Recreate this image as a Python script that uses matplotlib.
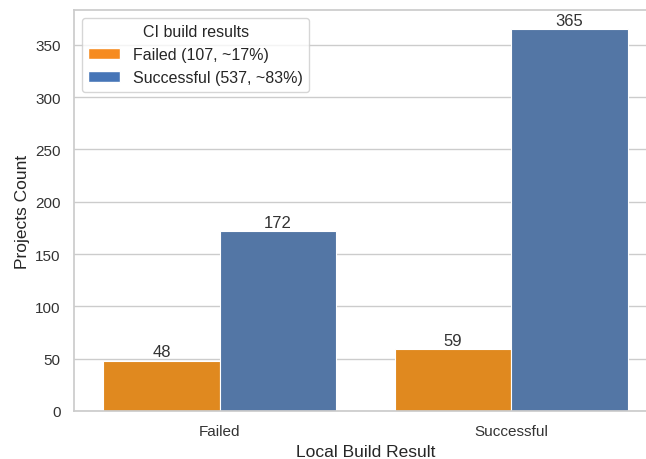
import matplotlib
matplotlib.use("Agg")
import matplotlib.pyplot as plt
import seaborn as sns
import numpy as np
from matplotlib.patches import Patch

local_results = ["Failed", "Successful"]
ci_results = ["Failed", "Successful"]
counts = {"Failed": [48, 59], "Successful": [172, 365]}
legend_labels = ["Failed (107, ~17%)", "Successful (537, ~83%)"]

bar_colors = ["#e0891f", "#5376a5"]
legend_colors = ["#f68b1f", "#4675b7"]

sns.set_theme(style="whitegrid")
plt.rcParams['font.family'] = ['Liberation Sans', 'DejaVu Sans']

fig = plt.figure(figsize=(6.46, 4.6), dpi=100)
W, H = 646, 460
ax = fig.add_axes([74 / W, (H - 412) / H, (657 - 74) / W, (412 - 11) / H])

x = np.arange(len(local_results))
width = 0.4
for i, ci in enumerate(ci_results):
    offs = (i - 0.5) * width
    bars = ax.bar(x + offs, counts[ci], width=width, color=bar_colors[i],
                  edgecolor="white", linewidth=0.8)
    ax.bar_label(bars, labels=[str(v) for v in counts[ci]], fontsize=12,
                 color="#333333", padding=1)

ax.set_xlim(-0.5, 1.5)
ax.set_ylim(0, 383.25)
ax.set_yticks(np.arange(0, 351, 50))
ax.set_xticks(x)
ax.set_xticklabels(local_results)
ax.tick_params(axis="both", labelsize=11, colors="#333333")
ax.set_xlabel("Local Build Result", fontsize=12.5, color="#262626")
ax.set_ylabel("Projects Count", fontsize=12.5, color="#262626")
ax.xaxis.grid(False)

handles = [Patch(facecolor=c) for c in legend_colors]
leg = ax.legend(handles, legend_labels, title="CI build results", loc="upper left",
                fontsize=11.5, title_fontsize=11.5, bbox_to_anchor=(0.0, 1.0))

fig.savefig("out.png", dpi=100)
